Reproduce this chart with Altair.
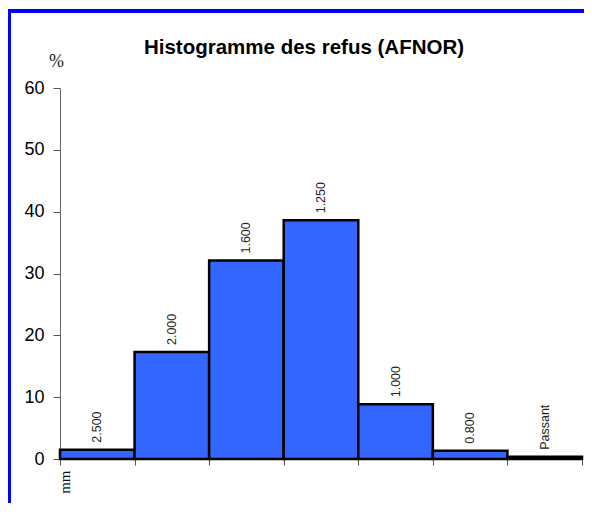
import altair as alt
import pandas as pd

sieves = ["2.500", "2.000", "1.600", "1.250", "1.000", "0.800", "Passant"]
refus = [1.5, 17.3, 32.1, 38.6, 8.85, 1.35, 0.35]
y_ticks = [0, 10, 20, 30, 40, 50, 60]
x_ticks = [0, 1, 2, 3, 4, 5, 6, 7]

df = pd.DataFrame({
    "sieve": sieves,
    "refus": refus,
    "x0": list(range(len(sieves))),
})
df["x1"] = df["x0"] + 1
df["xm"] = df["x0"] + 0.5

xscale = alt.Scale(domain=[0, 7], nice=False, zero=False)
yscale = alt.Scale(domain=[0, 60], nice=False)

xaxis = alt.Axis(
    values=x_ticks, grid=False, title=None, tickSize=6,
    labelExpr="datum.value == 0 ? 'mm' : ''",
    labelAngle=270, labelAlign="right", labelBaseline="middle",
    labelFont="Liberation Serif", labelFontSize=15, labelColor="#111",
    labelPadding=5, labelOffset=4, domainColor="#666", tickColor="#555",
    labelFlush=False, labelOverlap=False,
)
yaxis = alt.Axis(
    values=y_ticks, grid=False, tickSize=7, labelPadding=9,
    labelFont="Liberation Sans", labelFontSize=18, labelColor="#000",
    domainColor="#666", tickColor="#555",
    title="%", titleAngle=0, titleX=-4, titleY=-27, titleAlign="center",
    titleBaseline="middle", titleFont="Liberation Serif", titleFontSize=18,
    titleFontWeight="normal", titleColor="#222",
)

bars = alt.Chart(df).mark_rect(
    color="#3366FF", stroke="#000", strokeWidth=2.5
).encode(
    x=alt.X("x0:Q", scale=xscale, axis=xaxis),
    x2="x1:Q",
    y=alt.Y("refus:Q", scale=yscale, axis=yaxis),
    y2=alt.datum(0),
)

labels = alt.Chart(df).mark_text(
    angle=270, align="left", baseline="middle", dx=7,
    font="Liberation Sans", fontSize=12.5, color="#222",
).encode(
    x=alt.X("xm:Q", scale=xscale),
    y=alt.Y("refus:Q", scale=yscale),
    text="sieve:N",
)

frame_df = pd.DataFrame({"k": [0]})
frame = alt.Chart(frame_df).mark_rect(
    filled=False, stroke="#0000FF", strokeWidth=4, clip=False
).encode(
    x=alt.value(-51), x2=alt.value(700),
    y=alt.value(-77), y2=alt.value(700),
)

chart = alt.layer(bars, labels, frame).properties(
    width=522, height=371,
    autosize=alt.AutoSizeParams(type="none"),
    padding={"left": 52, "top": 80, "right": 2, "bottom": 44},
    title=alt.TitleParams(
        "Histogramme des refus (AFNOR)", font="Liberation Sans",
        fontSize=20.5, fontWeight="bold", color="#000",
        anchor="middle", dx=-17, offset=-49,
    ),
).configure_view(stroke=None)

chart.save("out.html", embed_options={"renderer": "svg", "actions": False})
